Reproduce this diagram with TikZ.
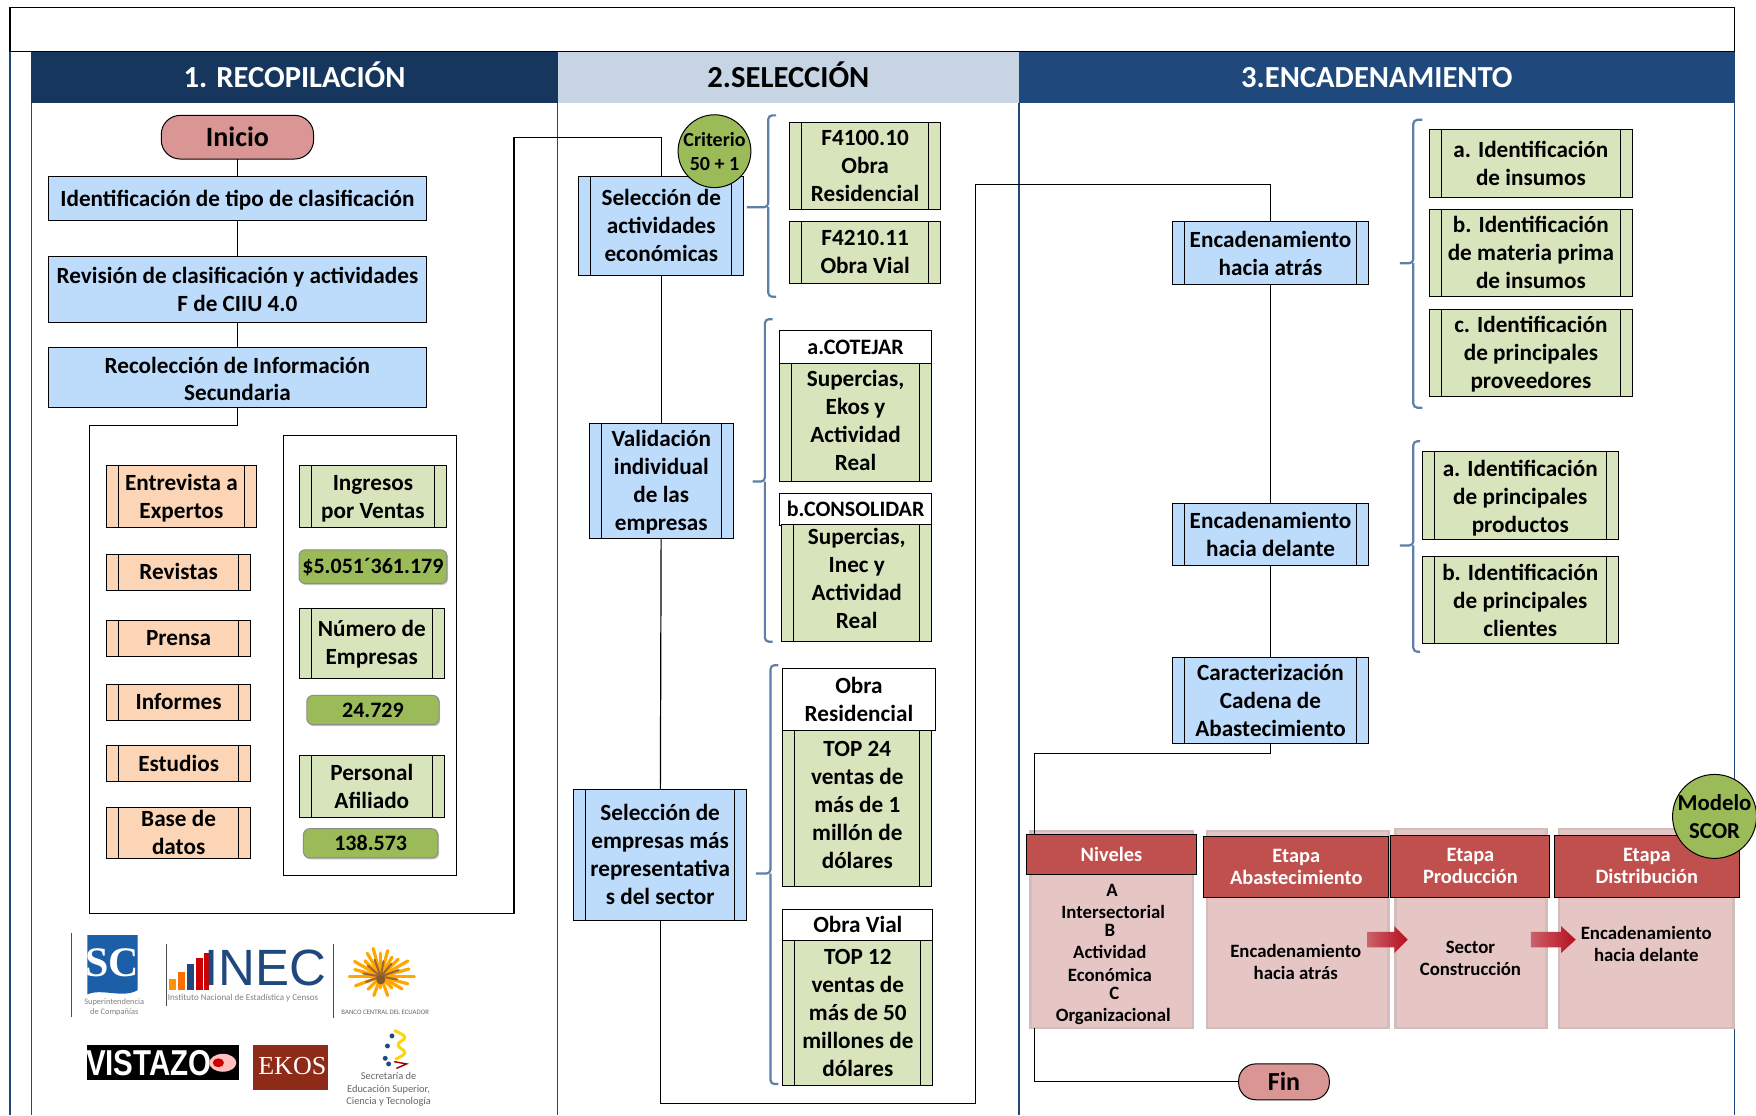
\documentclass[tikz,border=0pt]{standalone}
\usepackage{fontspec}
\setmainfont{Carlito}
\newfontfamily\logoserif{Liberation Serif}
\newfontfamily\logosans{Liberation Sans}
\usetikzlibrary{shapes.geometric,shadows,calc}
\definecolor{navyA}{HTML}{17365D}
\definecolor{navyB}{HTML}{1F497D}
\definecolor{paleblue}{HTML}{C6D4E4}
\definecolor{boxblue}{HTML}{BDDCFB}
\definecolor{boxorange}{HTML}{FBD5B5}
\definecolor{boxgreen}{HTML}{D7E4BC}
\definecolor{strong}{HTML}{9BBB59}
\definecolor{rosefill}{HTML}{D99694}
\definecolor{redhead}{HTML}{C0504D}
\definecolor{pinkpanel}{HTML}{E6C5C5}
\definecolor{pinkedge}{HTML}{D3BDBA}
\definecolor{bracecol}{HTML}{5F7FA8}
\definecolor{arrowred}{HTML}{B50F1E}
\definecolor{scblue}{HTML}{1B5FA8}
\definecolor{ekosred}{HTML}{8E2A18}
\tikzset{
  txt/.style={font=\fontsize{11.6}{14}\selectfont\bfseries,text=black,align=center,inner sep=0pt,outer sep=0pt},
  capsfont/.style={font=\fontsize{11}{14}\selectfont\bfseries},
  base/.style={txt,draw=black,line width=0.5pt},
  pp/.style={path picture={
    \draw[black,line width=0.5pt] ([xshift=6pt]path picture bounding box.north west)--([xshift=6pt]path picture bounding box.south west);
    \draw[black,line width=0.5pt] ([xshift=-6pt]path picture bounding box.north east)--([xshift=-6pt]path picture bounding box.south east);}},
  bluebox/.style={base,fill=boxblue},
  bluepp/.style={base,fill=boxblue,pp},
  orangepp/.style={base,fill=boxorange,pp},
  greenpp/.style={base,fill=boxgreen,pp},
  whitebox/.style={base,fill=white},
  valuebox/.style={base,capsfont,draw=black!45,fill=strong,rounded corners=3pt,drop shadow={shadow xshift=0.6pt,shadow yshift=-0.8pt,opacity=0.45}},
  term/.style={base,fill=rosefill,rounded corners=9.5pt,font=\fontsize{14}{16}\selectfont\bfseries},
  lane/.style={txt,fill=navyB,text=white,font=\fontsize{15.3}{16}\selectfont\bfseries},
  lanerule/.style={navyB,line width=0.7pt},
  conn/.style={black,line width=0.6pt},
  brace/.style={bracecol,line width=1.1pt,rounded corners=2pt},
  badge/.style={ellipse,draw=black,line width=0.5pt,fill=strong,txt},
  panel/.style={txt,draw=pinkedge,line width=1.2pt,fill=pinkpanel},
  cellfont/.style={font=\fontsize{9.4}{11}\selectfont\bfseries},
  tablehead/.style={base,fill=redhead,text=white,font=\fontsize{10.2}{11}\selectfont\bfseries},
  flowarrow/.style={left color=arrowred!55!pinkpanel,middle color=arrowred,right color=arrowred},
}
\newcommand{\bx}[7]{\node[#1,minimum width={(#5-#3)*0.56pt},minimum height={(#6-#4)*0.56pt}] (#2) at ({(#3+#5)/2},{(#4+#6)/2}) {\rule{0pt}{0.9em}#7\rule[-0.26em]{0pt}{0.26em}};}
\newcommand{\lift}[1]{\rule[-#1]{0pt}{#1}}
\newcommand{\sink}[1]{\rule{0pt}{#1}}
\begin{document}
\begin{tikzpicture}[x=0.56pt,y=-0.56pt]
\useasboundingbox (0,0) rectangle (1568,995.7);
\fill[white] (0,0) rectangle (1568,995.7);
% title box and lanes
\draw[black,line width=0.6pt] (9,7) rectangle (1549,46);
\foreach \xx in {9,28,498,910,1549} \draw[lanerule] (\xx,46)--(\xx,995.7);
\bx{lane,fill=navyA}{laneA}{28}{46}{498}{92}{1. RECOPILACIÓN}
\bx{lane,fill=paleblue,text=black}{laneB}{498}{46}{910}{92}{2.SELECCIÓN}
\bx{lane}{laneC}{910}{46}{1549}{92}{3.ENCADENAMIENTO}
% column 1
\bx{term}{inicio}{144}{103}{280}{142}{Inicio}
\bx{bluebox}{ident}{43}{158}{381}{197}{Identificación de tipo de clasificación}
\bx{bluebox}{revis}{43}{229}{381}{288}{\sink{11.5pt}Revisión de clasificación y actividades\\F de CIIU 4.0}
\bx{bluebox}{recol}{43}{310}{381}{364}{\sink{12.6pt}Recolección de Información\\Secundaria}
\bx{orangepp}{entre}{95}{416}{229}{471}{Entrevista a\\Expertos}
\bx{orangepp}{revistas}{95}{495}{224}{527}{Revistas}
\bx{orangepp}{prensa}{95}{554}{224}{586}{Prensa}
\bx{orangepp}{informes}{95}{611}{224}{643}{Informes}
\bx{orangepp}{estudios}{95}{666}{224}{698}{Estudios}
\bx{orangepp,inner ysep=-2pt}{based}{95}{721}{224}{767}{Base de\\datos}
\bx{whitebox}{cont}{253}{389}{408}{782}{}
\bx{greenpp}{ingresos}{267}{416}{399}{471}{Ingresos\\por Ventas}
\bx{valuebox}{valA}{267}{491}{399}{521}{\$5.051´361.179}
\bx{greenpp}{numero}{267}{543}{397}{606}{Número de\\Empresas}
\bx{valuebox}{valB}{274}{621}{392}{647}{24.729}
\bx{greenpp}{personal}{267}{675}{397}{730}{Personal\\Afiliado}
\bx{valuebox}{valC}{271}{740}{391}{766}{138.573}
% column 2
\bx{bluepp}{selA}{517}{158}{664}{246}{Selección de\\actividades\\económicas}
\bx{greenpp}{fa}{705}{109}{840}{187}{F4100.10\\Obra\\Residencial}
\bx{greenpp}{fb}{705}{198}{840}{253}{F4210.11\\Obra Vial}
\node[badge,inner sep=-8pt,minimum width={65*0.56pt},minimum height={65*0.56pt},font=\fontsize{10}{12}\selectfont\bfseries] (crit) at (638,135) {Criterio\\50 + 1};
\bx{bluepp}{valid}{526}{378}{655}{481}{Validación\\individual\\de las\\empresas}
\bx{whitebox,capsfont}{cotejar}{696}{295}{832}{325}{a.COTEJAR}
\bx{greenpp}{cotb}{696}{325}{832}{430}{Supercias,\\Ekos y\\Actividad\\Real\lift{5.2pt}}
\bx{whitebox,capsfont}{consol}{696}{441}{832}{469}{b.CONSOLIDAR}
\bx{greenpp}{conb}{698}{469}{832}{572}{Supercias,\\Inec y\\Actividad\\Real\lift{6.4pt}}
\bx{bluepp}{selB}{512}{705}{667}{822}{Selección de\\empresas más\\representativa\\s del sector}
\bx{whitebox}{obraR}{699}{597}{835}{652}{\sink{11.5pt}Obra\\Residencial}
\bx{greenpp}{topA}{699}{652}{832}{792}{TOP 24\\ventas de\\más de 1\\millón de\\dólares\lift{6.4pt}}
\bx{whitebox}{obraV}{699}{812}{833}{840}{Obra Vial}
\bx{greenpp}{topB}{699}{840}{833}{969}{TOP 12\\ventas de\\más de 50\\millones de\\dólares}
% column 3
\bx{bluepp}{atras}{1047}{198}{1222}{254}{\sink{11.5pt}Encadenamiento\\hacia atrás}
\bx{greenpp}{ia}{1276}{116}{1458}{176}{\sink{11.5pt}a. Identificación\\de insumos}
\bx{greenpp}{ib}{1276}{187}{1458}{265}{b. Identificación\\de materia prima\\de insumos}
\bx{greenpp}{ic}{1276}{276}{1458}{354}{c. Identificación\\de principales\\proveedores}
\bx{bluepp}{delante}{1047}{450}{1222}{505}{Encadenamiento\\hacia delante}
\bx{greenpp}{da}{1270}{403}{1445}{482}{\sink{11.5pt}a. Identificación\\de principales\\productos}
\bx{greenpp}{db}{1270}{497}{1445}{575}{\sink{11.5pt}b. Identificación\\de principales\\clientes}
\bx{bluepp}{carac}{1047}{587}{1222}{664}{\sink{11.5pt}Caracterización\\Cadena de\\Abastecimiento}
% table
\bx{panel}{pN}{920}{742}{1065}{918}{}
\bx{panel}{pA}{1078}{742}{1240}{918}{}
\bx{panel}{pP}{1246}{740}{1381}{918}{}
\bx{panel}{pD}{1392}{740}{1548}{918}{}
\bx{tablehead}{hN}{917}{745}{1068}{781}{Niveles}
\bx{tablehead}{hA}{1075}{747}{1240}{801}{Etapa\\Abastecimiento}
\bx{tablehead}{hP}{1242}{746}{1384}{801}{Etapa\\Producción}
\bx{tablehead}{hD}{1388}{746}{1553}{801}{Etapa\\Distribución}
\node[txt,cellfont] (tN) at (991,852) {\hspace*{2.2pt}A\\\hspace*{3.4pt}Intersectorial\\[-2pt]B\hspace*{3.4pt}\\Actividad\hspace*{3.4pt}\\[0.5pt]Económica\hspace*{3.4pt}\\[-2pt]\hspace*{4.4pt}C\\\hspace*{3.4pt}Organizacional};
\node[txt,cellfont] (tA) at (1157,859) {Encadenamiento\\hacia atrás};
\node[txt,cellfont] (tP) at (1313,856) {Sector\\Construcción};
\node[txt,cellfont] (tD) at (1470,843) {Encadenamiento\\hacia delante};
\shade[flowarrow] (1221,832)--(1245,832)--(1245,827)--(1257,839)--(1245,851)--(1245,846)--(1221,846)--cycle;
\shade[flowarrow] (1367,832)--(1394,832)--(1394,827)--(1407,839)--(1394,851)--(1394,846)--(1367,846)--cycle;
\node[badge,inner sep=-10pt,minimum width={75*0.56pt},minimum height={75*0.56pt},font=\fontsize{11.4}{14}\selectfont\bfseries] (scor) at (1531,729) {Modelo\\SCOR};
\bx{term,rounded corners=8.5pt,font=\fontsize{13}{15}\selectfont\bfseries}{fin}{1106}{950}{1187}{982}{Fin}
% connectors
\coordinate (c1) at (80,380);
\coordinate (c2) at (80,816);
\coordinate (c3) at (459,816);
\coordinate (c4) at (459,123);
\coordinate (c6) at (871,985);
\coordinate (c7) at (871,165);
\coordinate (c8) at (924,673);
\draw[conn] (inicio)--(ident);
\draw[conn] (ident)--(revis);
\draw[conn] (revis)--(recol);
\draw[conn] (recol.south) |- (c1) -- (c2) -- (c3) -- (c4) -| (selA.north);
\draw[conn] (selA)--(valid);
\draw[conn] (valid)--(selB);
\draw[conn] (selB.south) |- (c6) -- (c7) -| (atras.north);
\draw[conn] (atras)--(delante);
\draw[conn] (delante)--(carac);
\draw[conn] (carac.south) |- (c8) -- (c8 |- hN.north);
\draw[conn] (c8 |- pN.south) |- (fin.west);
% braces
\draw[brace] (693,103)--(686,103)--(686,185)--(667,185);\draw[brace] (686,185)--(686,265)--(693,265);
\draw[brace] (690,285)--(683,285)--(683,430)--(672,430);\draw[brace] (683,430)--(683,573)--(690,573);
\draw[brace] (695,594)--(688,594)--(688,780)--(675,780);\draw[brace] (688,780)--(688,968)--(695,968);
\draw[brace] (1270,107)--(1262,107)--(1262,235)--(1250,235);\draw[brace] (1262,235)--(1262,364)--(1270,364);
\draw[brace] (1268,394)--(1262,394)--(1262,487)--(1250,487);\draw[brace] (1262,487)--(1262,582)--(1268,582);
% logos
\draw[black!70,line width=0.5pt] (64,833)--(64,908);
\fill[scblue] (78,835) -- (123,835) -- (123,884) .. controls (110,892) and (90,882) .. (78,888) -- cycle;
\node[txt,text=white,font=\fontsize{21}{21}\selectfont\logoserif\bfseries] (logoSC) at (100,860) {SC};
\node[txt,text=black!50,font=\fontsize{4.2}{5}\selectfont] (logoSCt) at (102,899) {Superintendencia\\de Compañías};
\draw[black!70,line width=0.5pt] (149,843)--(149,898);
\fill[orange!85!yellow] (151,874) rectangle (157,884);
\fill[orange!85!red] (159,868) rectangle (165,884);
\fill[navyB] (167,861) rectangle (173,884);
\fill[red!80!black] (175,855) rectangle (181,884);
\fill[red!80!black] (182,851) rectangle (187,884);
\node[txt,text=navyB,font=\fontsize{25.5}{26}\selectfont\logosans] (logoINEC) at (237,864) {INEC};
\node[txt,text=black!50,font=\fontsize{4.5}{5}\selectfont] (logoINECt) at (217,891) {Instituto Nacional de Estadística y Censos};
\draw[black!70,line width=0.5pt] (298,843)--(298,909);
\foreach \ang/\len in {0/28,15/24,30/27,45/20,60/24,75/26,90/21,105/24,120/20,135/22,150/28,165/26,180/30,195/25,210/22,225/14,250/18,270/10,290/18,315/16,340/24}
  \draw[orange!70!yellow,line width=1.6pt,line cap=round] (340,872)--++(\ang+180:\len);
\foreach \ang/\len in {10/16,40/15,70/16,100/14,130/15,160/17,190/15,340/14}
  \draw[brown!80!black,line width=1pt,line cap=round] (340,872)--++(\ang+180:\len);
\fill[brown!70!black] (340,875) circle (4);
\node[txt,text=black!60,font=\fontsize{3.4}{4}\selectfont] (logoBCE) at (344,904) {BANCO CENTRAL DEL ECUADOR};
\fill[black] (78,933) rectangle (213,964);
\node[txt,text=white,font=\fontsize{18}{18}\selectfont\logosans\bfseries,xscale=0.82] (logoV) at (133,949) {VISTAZO};
\fill[red!25!white] (199,949) ellipse (12 and 8);
\fill[red!80!black] (195,949) ellipse (5 and 4);
\fill[ekosred] (226,933) rectangle (293,973);
\node[txt,text=white,font=\fontsize{13}{13}\selectfont\logoserif] (logoE) at (261,952) {EKOS};
\foreach \px/\py in {350/925,346/934,344/945,347/950} \fill[navyB] (\px,\py) circle (2.2);
\draw[yellow!75!orange,line width=1.5pt,rounded corners=3pt] (352,920)--(364,926)--(353,933)--(364,940)--(353,946);
\draw[red!60!black,line width=0.7pt] (352,948)--(363,950)--(354,954);
\node[txt,text=black!60,font=\fontsize{5.2}{6.2}\selectfont] (logoS) at (347,973) {Secretaría de\\Educación Superior,\\Ciencia y Tecnología};
\end{tikzpicture}
\end{document}
